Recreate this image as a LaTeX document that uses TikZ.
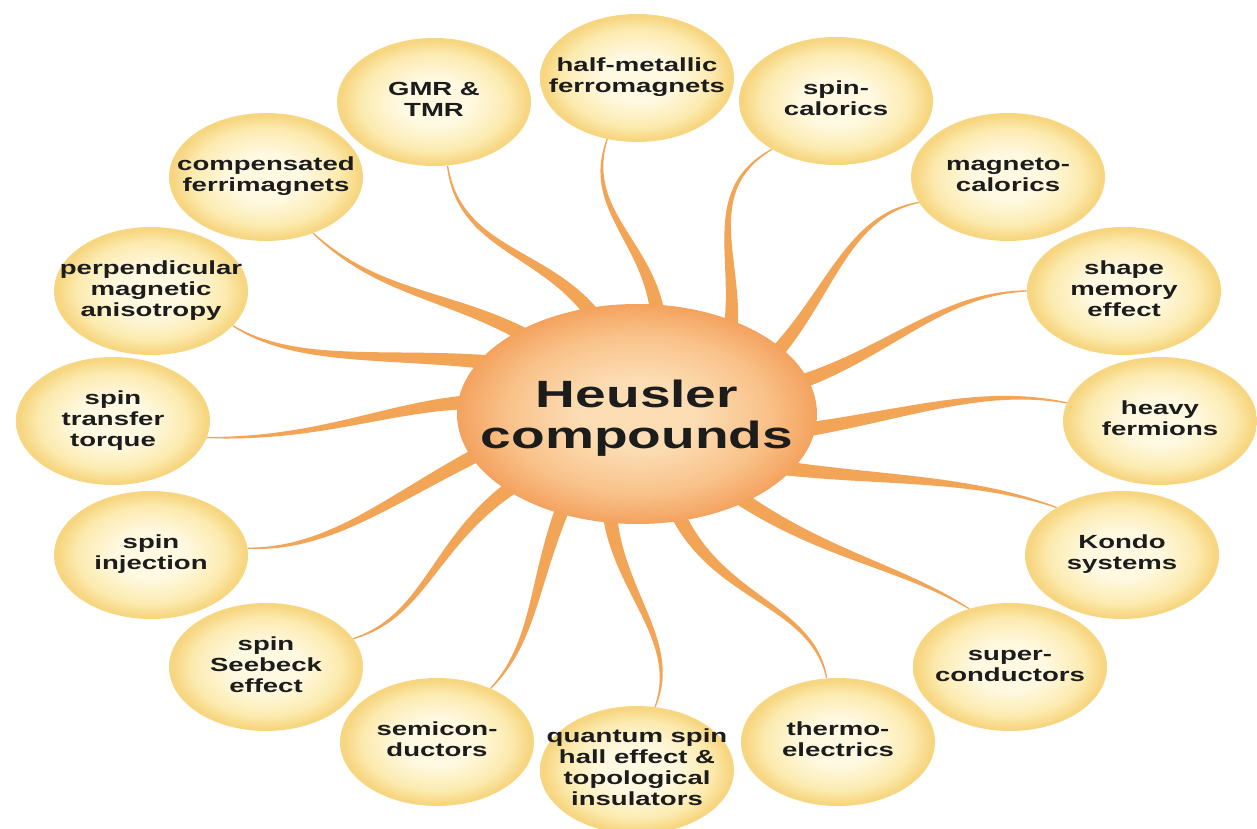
\documentclass[tikz,border=0pt]{standalone}
\usepackage{fontspec}
\usepackage{graphicx}
\setmainfont{Liberation Sans}
\usetikzlibrary{shapes.geometric,calc}

\definecolor{bubin}{HTML}{FFF9E2}
\definecolor{bubmid}{HTML}{FCEBB0}
\definecolor{bubrim}{HTML}{F7D681}
\definecolor{hubin}{HTML}{FCDDB4}
\definecolor{hubmid}{HTML}{F9C28A}
\definecolor{hubout}{HTML}{F4A25E}
\definecolor{tent}{HTML}{F2A457}
\definecolor{txt}{HTML}{1C1C1C}

\pgfdeclareradialshading{bubble}{\pgfpoint{0bp}{0bp}}{%
  color(0bp)=(bubin); color(9bp)=(bubin); color(19bp)=(bubmid);
  color(24bp)=(bubrim); color(25bp)=(bubrim); color(50bp)=(bubrim)}
\pgfdeclareradialshading{hubshade}{\pgfpoint{0bp}{0bp}}{%
  color(0bp)=(hubin); color(8bp)=(hubin); color(18bp)=(hubmid);
  color(25bp)=(hubout); color(50bp)=(hubout)}

\pgfdeclarelayer{back}
\pgfsetlayers{back,main}

\tikzset{
  topic/.style={ellipse, minimum width=194pt, minimum height=128pt,
    inner sep=0pt, shading=bubble, text=txt,
    font=\bfseries\fontsize{19}{21}\selectfont},
  hubnode/.style={ellipse, minimum width=360pt, minimum height=220pt,
    inner sep=0pt, shading=hubshade, text=txt,
    font=\bfseries\fontsize{38}{41}\selectfont},
  tendril/.style={fill=tent},
}

% centred, horizontally widened label that does not enlarge its node
\newcommand\lbl[1]{\makebox[0pt]{\scalebox{1.45}[1]{\begin{tabular}{@{}c@{}}#1\end{tabular}}}}

% tapered arm: #1 angle on the hub, #2 #3 control points, #4 anchor on the topic node
\newcommand\tendril[4]{%
  \coordinate (t0) at ($(hub.center)!0.8!(hub.#1)$);
  \coordinate (t1) at #2;
  \coordinate (t2) at #3;
  \coordinate (t3) at (#4);
  \fill[tendril]
    ($(t0)!7.5pt!90:(t1)$) .. controls ($(t1)!5.5pt!-90:(t0)$) and ($(t2)!2.5pt!90:(t3)$) .. ($(t3)!0.6pt!-90:(t2)$)
    -- ($(t3)!0.6pt!90:(t2)$) .. controls ($(t2)!2.5pt!-90:(t3)$) and ($(t1)!5.5pt!90:(t0)$) .. ($(t0)!7.5pt!-90:(t1)$)
    -- cycle;
}

\begin{document}
\begin{tikzpicture}[x=1pt,y=-1pt]
  \useasboundingbox (0,0) rectangle (1257,829);

  % central hub
  \node[hubnode] (hub) at (637,414) {\raisebox{-12pt}[0pt][0pt]{\lbl{Heusler\\compounds}}};

  % topics around the hub
  \node[topic] (gmr)     at (434,102) {\lbl{GMR \&\\TMR}};
  \node[topic] (half)    at (637,78)  {\lbl{half-metallic\\ferromagnets}};
  \node[topic] (scal)    at (836,101) {\lbl{spin-\\calorics}};
  \node[topic] (mcal)    at (1008,177) {\lbl{magneto-\\calorics}};
  \node[topic] (shape)   at (1124,291) {\lbl{shape\\memory\\effect}};
  \node[topic] (heavy)   at (1160,421) {\lbl{heavy\\fermions}};
  \node[topic] (kondo)   at (1122,555) {\lbl{Kondo\\systems}};
  \node[topic] (super)   at (1010,667) {\lbl{super-\\conductors}};
  \node[topic] (thermo)  at (838,742) {\lbl{thermo-\\electrics}};
  \node[topic] (qsh)     at (637,770) {\lbl{quantum spin\\hall effect \&\\topological\\insulators}};
  \node[topic] (semi)    at (437,742) {\lbl{semicon-\\ductors}};
  \node[topic] (seebeck) at (266,667) {\lbl{spin\\Seebeck\\effect}};
  \node[topic] (inj)     at (151,555) {\lbl{spin\\injection}};
  \node[topic] (stt)     at (113,421) {\lbl{spin\\transfer\\torque}};
  \node[topic] (pma)     at (151,291) {\lbl{perpendicular\\magnetic\\anisotropy}};
  \node[topic] (comp)    at (266,177) {\lbl{compensated\\ferrimagnets}};

  % white ground and the arms from the hub to each topic, under everything
  \begin{pgfonlayer}{back}
    \fill[white] (0,0) rectangle (1257,829);
    \tendril{144}{(458,293)}{(383,299)}{comp.-50}
    \tendril{112}{(554,249)}{(460,255)}{gmr.-78}
    \tendril{76}{(655,244)}{(582,213)}{half.-116}
    \tendril{37}{(745,269)}{(696,193)}{scal.-143.5}
    \tendril{20}{(828,305)}{(843,216)}{mcal.-164}
    \tendril{10}{(881,362)}{(936,293)}{shape.180}
    \tendril{-8.5}{(895,419)}{(976,385)}{heavy.169}
    \tendril{-23.4}{(873,482)}{(965,475)}{kondo.144}
    \tendril{-40.3}{(817,555)}{(895,563)}{super.125}
    \tendril{-68.4}{(709,600)}{(811,600)}{thermo.100}
    \tendril{-108.4}{(611,587)}{(682,638)}{qsh.74}
    \tendril{-131.6}{(532,579)}{(537,640)}{semi.45}
    \tendril{-150.3}{(435,529)}{(431,615)}{seebeck.18}
    \tendril{-168.5}{(396,493)}{(336,550)}{inj.4}
    \tendril{175.3}{(400,400)}{(330,440)}{stt.-10}
    \tendril{158.8}{(400,350)}{(300,368)}{pma.-23}
  \end{pgfonlayer}
\end{tikzpicture}
\end{document}
